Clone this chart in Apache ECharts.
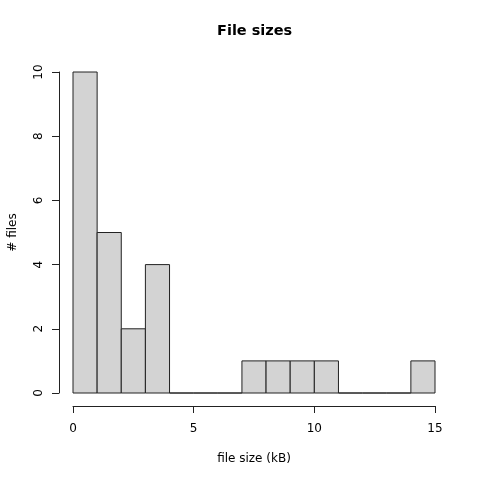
<!DOCTYPE html>
<html><head><meta charset="utf-8">
<script src="https://cdn.jsdelivr.net/npm/echarts@6/dist/echarts.min.js"></script>
<style>html,body{margin:0;padding:0;background:#fff}#c{width:480px;height:480px}</style>
</head><body><div id="c"></div>
<script>
var binStarts = [0,1,2,3,4,5,6,7,8,9,10,11,12,13,14];
var binWidth = 1;
var counts = [10,5,2,4,0,0,0,1,1,1,1,0,0,0,1];
var xTicks = [0,5,10,15];
var yTicks = [0,2,4,6,8,10];

var data = binStarts.map(function(s,i){return [s, s+binWidth, counts[i]];});
var chart = echarts.init(document.getElementById('c'));
var font = 'DejaVu Sans';
chart.setOption({
  animation:false,
  title:{text:'File sizes', left:212, top:19,
    textStyle:{fontFamily:font,fontSize:14.5,fontWeight:'bold',color:'#000'}},
  grid:{left:73,right:45,top:72,bottom:87,outerBoundsMode:'none',containLabel:false},
  xAxis:{type:'value',min:0,max:15,interval:5,offset:13,
    name:'file size (kB)',nameLocation:'middle',nameGap:47,
    nameTextStyle:{fontFamily:font,fontSize:12,color:'#000'},
    axisLine:{show:true,onZero:false,lineStyle:{color:'#222'}},
    axisTick:{show:true,length:7,lineStyle:{color:'#222'}},
    axisLabel:{fontFamily:font,fontSize:12,color:'#000',margin:17},
    splitLine:{show:false}},
  yAxis:{type:'value',min:0,max:10,interval:2,offset:14,
    name:'# files',nameLocation:'middle',nameGap:40,nameRotate:90,
    nameTextStyle:{fontFamily:font,fontSize:12,color:'#000'},
    axisLine:{show:true,onZero:false,lineStyle:{color:'#222'}},
    axisTick:{show:true,length:7,lineStyle:{color:'#222'}},
    axisLabel:{fontFamily:font,fontSize:12,color:'#000',rotate:90,margin:14},
    splitLine:{show:false}},
  series:[{type:'custom',data:data,
    renderItem:function(params,api){
      var p0 = api.coord([api.value(0), api.value(2)]);
      var p1 = api.coord([api.value(1), 0]);
      return {type:'rect',shape:{x:p0[0],y:p0[1],width:p1[0]-p0[0],height:p1[1]-p0[1]},
        style:{fill:'#d3d3d3',stroke:'#222',lineWidth:1}};
    }}]
});
</script></body></html>
